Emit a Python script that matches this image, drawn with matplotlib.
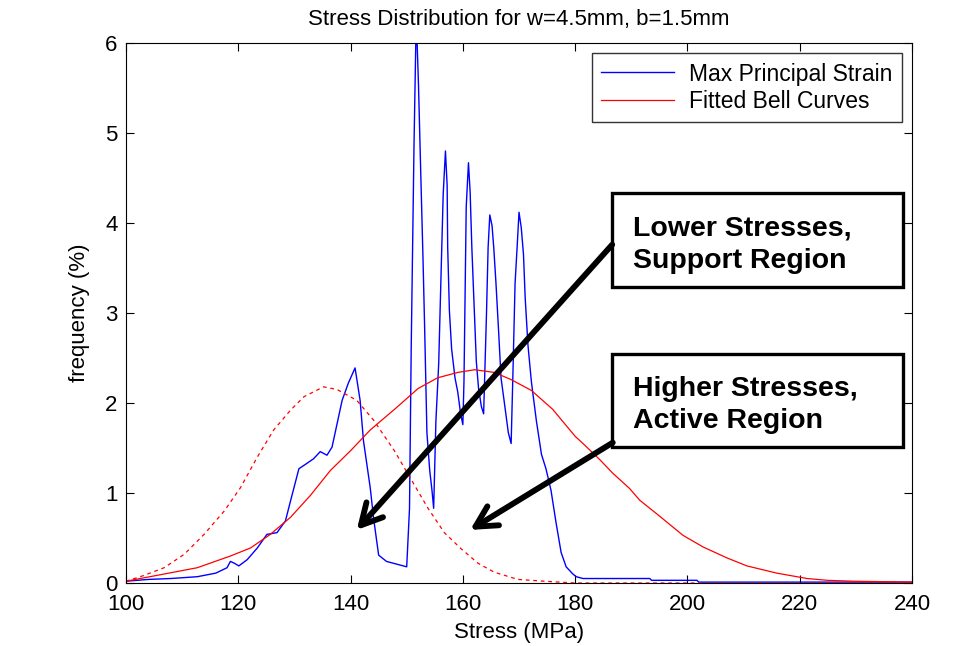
import numpy as np
import matplotlib
matplotlib.use("Agg")
import matplotlib.pyplot as plt
from matplotlib.patches import Rectangle

plt.rcParams['font.family'] = ['Liberation Sans', 'DejaVu Sans']

# Measured stress histogram (blue)
strain_x = [100.0, 104.0, 108.0, 112.7, 116.0, 118.0, 118.6, 119.3, 120.1, 121.6,
            123.4, 125.1, 126.9, 128.4, 129.3, 130.8, 132.0, 133.4, 134.6, 135.8,
            136.7, 137.6, 138.5, 139.6, 140.8, 141.7, 142.3, 143.5, 144.1, 145.0,
            146.4, 148.2, 150.0, 150.5, 150.8, 151.3, 151.7, 152.1, 152.5, 152.9,
            153.2, 153.6, 154.1, 154.5, 154.8, 155.2, 155.7, 156.1, 156.5, 156.9,
            157.2, 157.3, 157.6, 158.0, 158.6, 159.1, 159.6, 160.0, 160.2, 160.4,
            160.6, 161.0, 161.3, 161.6, 162.0, 162.4, 162.8, 163.3, 163.7, 164.2,
            164.5, 164.8, 165.2, 165.5, 165.9, 166.4, 166.8, 167.4, 168.1, 168.6,
            168.9, 169.3, 169.7, 170.0, 170.4, 170.8, 171.1, 171.6, 172.2, 173.1,
            174.0, 174.8, 175.7, 176.6, 177.5, 178.4, 179.6, 180.2, 181.4, 193.3,
            193.6, 201.7, 202.0, 240.0]
strain_y = [0.02, 0.04, 0.05, 0.07, 0.11, 0.17, 0.24, 0.22, 0.19, 0.26,
            0.39, 0.54, 0.56, 0.69, 0.91, 1.27, 1.32, 1.38, 1.46, 1.42,
            1.51, 1.77, 2.03, 2.22, 2.39, 2.03, 1.58, 1.06, 0.72, 0.31,
            0.24, 0.21, 0.18, 0.83, 2.60, 4.86, 6.30, 5.53, 4.56, 3.61,
            2.82, 1.67, 1.25, 1.03, 0.83, 1.80, 2.44, 3.39, 4.32, 4.80,
            4.42, 3.73, 3.03, 2.60, 2.28, 2.12, 1.88, 1.76, 2.24, 3.21,
            4.18, 4.67, 4.34, 3.73, 3.09, 2.46, 2.16, 1.96, 1.88, 2.97,
            3.73, 4.09, 3.97, 3.73, 3.33, 2.76, 2.28, 2.00, 1.67, 1.55,
            2.28, 3.33, 3.77, 4.12, 3.95, 3.65, 3.17, 2.64, 2.24, 1.80,
            1.43, 1.27, 1.03, 0.67, 0.34, 0.18, 0.10, 0.07, 0.05, 0.05,
            0.03, 0.03, 0.01, 0.01]

# Fitted bell curve, higher stresses (solid red)
high_x = [100.0, 106.8, 112.7, 118.6, 122.2, 125.7, 129.3, 132.8, 136.4, 140.0,
          143.5, 148.2, 152.0, 155.5, 159.1, 162.1, 165.6, 168.6, 172.2, 176.0,
          180.0, 181.4, 184.4, 186.7, 189.7, 191.5, 195.1, 199.2, 202.8, 207.0,
          210.6, 215.9, 221.3, 224.9, 229.6, 240.0]
high_y = [0.02, 0.10, 0.17, 0.30, 0.39, 0.54, 0.73, 0.97, 1.25, 1.47,
          1.70, 1.95, 2.16, 2.28, 2.34, 2.37, 2.34, 2.26, 2.14, 1.93,
          1.63, 1.55, 1.37, 1.22, 1.05, 0.92, 0.74, 0.53, 0.40, 0.28,
          0.19, 0.11, 0.05, 0.03, 0.02, 0.01]

# Fitted bell curve, lower stresses (dashed red)
low_x = [100.0, 103.0, 106.8, 110.4, 113.9, 117.5, 120.4, 123.4, 126.3, 129.3,
         131.7, 135.2, 137.6, 141.1, 144.1, 147.8, 150.8, 153.8, 156.7, 159.7,
         162.7, 165.6, 169.8, 174.5, 180.0, 240.0]
low_y = [0.02, 0.08, 0.17, 0.32, 0.54, 0.80, 1.06, 1.40, 1.70, 1.92,
         2.07, 2.18, 2.15, 2.03, 1.81, 1.47, 1.15, 0.83, 0.56, 0.38,
         0.22, 0.12, 0.04, 0.02, 0.0, 0.0]

fig = plt.figure(figsize=(9.72, 6.46), dpi=100)
ax = fig.add_axes([0.1296, 0.0975, 0.8087, 0.8359])

ax.plot(strain_x, strain_y, color='blue', lw=1.0, label='Max Principal Strain')
ax.plot(high_x, high_y, color='red', lw=0.9, label='Fitted Bell Curves')
ax.plot(low_x, low_y, color='red', lw=0.9, dashes=(3, 3))

ax.set_xlim(100, 240)
ax.set_ylim(0, 6)
ax.set_xticks(np.arange(100, 241, 20))
ax.set_yticks(np.arange(0, 7, 1))
ax.tick_params(direction='in', length=6, width=0.8, labelsize=16, top=True, right=True)
ax.tick_params(axis='x', pad=8)
ax.tick_params(axis='y', pad=6)
for s in ax.spines.values():
    s.set_linewidth(0.8)

ax.set_title('Stress Distribution for w=4.5mm, b=1.5mm', fontsize=16, pad=13)
ax.set_xlabel('Stress (MPa)', fontsize=16, labelpad=5)
ax.set_ylabel('frequency (%)', fontsize=16, labelpad=11)

leg = ax.legend(loc='upper right', fontsize=16.5, frameon=True, fancybox=False,
                handlelength=3.2, borderaxespad=0.45, borderpad=0.4,
                labelspacing=0.2, handletextpad=0.65)
leg.get_frame().set_edgecolor('black')
leg.get_frame().set_linewidth(1.0)

# annotation boxes
boxes = [((186.6, 3.29), 'Lower Stresses,\nSupport Region'),
         ((186.6, 1.51), 'Higher Stresses,\nActive Region')]
for (bx, by), txt in boxes:
    ax.add_patch(Rectangle((bx, by), 51.8, 1.04, facecolor='white',
                           edgecolor='black', lw=2.4, zorder=5))
    ax.text(bx + 3.7, by + 0.47, txt, fontsize=20.5, fontweight='bold',
            ha='left', va='center', linespacing=1.32, zorder=6)

arrow = dict(arrowstyle='->,head_length=1.5,head_width=0.8', lw=4.2, color='black',
             shrinkA=0, shrinkB=0)
ax.annotate('', xy=(141.1, 0.59), xytext=(186.6, 3.76), arrowprops=arrow, zorder=7)
ax.annotate('', xy=(161.3, 0.59), xytext=(186.7, 1.56), arrowprops=arrow, zorder=7)

fig.savefig('out.png', dpi=100)
